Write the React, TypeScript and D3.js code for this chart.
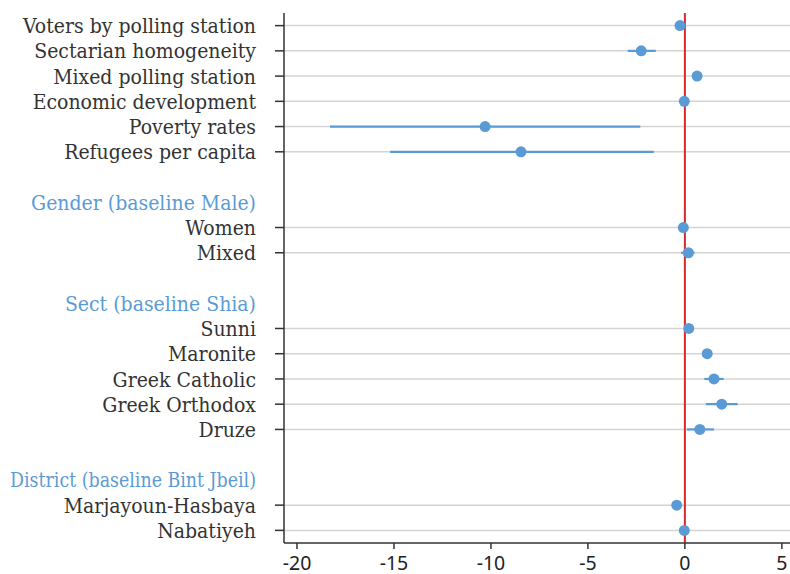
import { useLayoutEffect, useRef, useState } from 'react'
import { scaleLinear, scalePoint } from 'd3'

// rows top to bottom: "" is a spacer, headers come from groupHeaders
const rows = [
  'Voters by polling station',
  'Sectarian homogeneity',
  'Mixed polling station',
  'Economic development',
  'Poverty rates',
  'Refugees per capita',
  '',
  'Gender (baseline Male)',
  'Women',
  'Mixed',
  '',
  'Sect (baseline Shia)',
  'Sunni',
  'Maronite',
  'Greek Catholic',
  'Greek Orthodox',
  'Druze',
  '',
  'District (baseline Bint Jbeil)',
  'Marjayoun-Hasbaya',
  'Nabatiyeh',
]

const groupHeaders = ['Gender (baseline Male)', 'Sect (baseline Shia)', 'District (baseline Bint Jbeil)']

const variables = [
  'Voters by polling station',
  'Sectarian homogeneity',
  'Mixed polling station',
  'Economic development',
  'Poverty rates',
  'Refugees per capita',
  'Women',
  'Mixed',
  'Sunni',
  'Maronite',
  'Greek Catholic',
  'Greek Orthodox',
  'Druze',
  'Marjayoun-Hasbaya',
  'Nabatiyeh',
]

const estimates = [-0.25, -2.25, 0.63, -0.03, -10.3, -8.45, -0.08, 0.18, 0.2, 1.15, 1.5, 1.9, 0.77, -0.42, -0.03]
const lower = [-0.32, -2.95, 0.45, -0.1, -18.3, -15.2, -0.15, -0.2, 0.1, 1.0, 1.0, 1.08, 0.1, -0.5, -0.1]
const upper = [-0.18, -1.5, 0.85, 0.05, -2.3, -1.6, 0.0, 0.5, 0.3, 1.3, 2.0, 2.72, 1.5, -0.34, 0.05]

const xTicks = [-20, -15, -10, -5, 0, 5]

const width = 790
const height = 574
const margin = { top: 13, right: 0, bottom: 31, left: 284 }
const labelRight = 256
const labelMaxWidth = 246

const blue = '#5b9bd5'

function CoefPlot() {
  const innerWidth = width - margin.left - margin.right
  const innerHeight = height - margin.top - margin.bottom

  const labelRefs = useRef<(SVGTextElement | null)[]>([])
  const [tooWide, setTooWide] = useState<boolean[]>([])

  useLayoutEffect(() => {
    setTooWide(
      labelRefs.current.map((node) => (node ? node.getComputedTextLength() > labelMaxWidth : false)),
    )
  }, [])

  const xScale = scaleLinear().domain([-20.67, 5.42]).range([0, innerWidth])

  const yScale = scalePoint<string>()
    .domain(rows.map((_, index) => String(index)))
    .range([0, innerHeight])
    .padding(0.5)

  const rowY = (label: string) => yScale(String(rows.indexOf(label))) ?? 0

  return (
    <svg
      width={width}
      height={height}
      viewBox={`0 0 ${width} ${height}`}
      style={{ position: 'absolute', left: 0, top: 0, display: 'block', background: '#fff' }}
    >
      <g transform={`translate(${margin.left}, ${margin.top})`}>
        {variables.map((name) => (
          <line
            key={`${name}-grid`}
            x1={0}
            x2={innerWidth}
            y1={rowY(name)}
            y2={rowY(name)}
            stroke="#d4d4d4"
            strokeWidth={1.5}
          />
        ))}

        {rows.map((label, index) => {
          if (!label) return null
          const isHeader = groupHeaders.includes(label)
          return (
            <text
              key={`${label}-${index}-label`}
              ref={(node) => {
                labelRefs.current[index] = node
              }}
              x={labelRight - margin.left}
              y={yScale(String(index)) ?? 0}
              dy="0.36em"
              textAnchor="end"
              fontFamily="'DejaVu Serif Condensed', 'DejaVu Serif', serif"
              fontSize={21}
              fill={isHeader ? blue : '#333'}
              textLength={tooWide[index] ? labelMaxWidth : undefined}
              lengthAdjust={tooWide[index] ? 'spacingAndGlyphs' : undefined}
            >
              {label}
            </text>
          )
        })}

        {variables.map((name) => (
          <line
            key={`${name}-tick`}
            x1={-9}
            x2={0}
            y1={rowY(name)}
            y2={rowY(name)}
            stroke="#333"
            strokeWidth={1.5}
          />
        ))}

        <line
          x1={xScale(0)}
          x2={xScale(0)}
          y1={0}
          y2={innerHeight}
          stroke="#d9282b"
          strokeWidth={2}
        />

        {variables.map((name, i) => (
          <g key={`${name}-coef`}>
            <line
              x1={xScale(lower[i])}
              x2={xScale(upper[i])}
              y1={rowY(name)}
              y2={rowY(name)}
              stroke={blue}
              strokeWidth={2.2}
            />
            <circle cx={xScale(estimates[i])} cy={rowY(name)} r={5.5} fill={blue} />
          </g>
        ))}

        <line x1={0} x2={0} y1={0} y2={innerHeight} stroke="#333" strokeWidth={1.5} />
        <line x1={0} x2={innerWidth} y1={innerHeight} y2={innerHeight} stroke="#333" strokeWidth={1.5} />

        {xTicks.map((tick) => (
          <g key={`${tick}-xtick`} transform={`translate(${xScale(tick)}, ${innerHeight})`}>
            <line y1={0} y2={6} stroke="#333" strokeWidth={1.5} />
            <text
              y={26.5}
              textAnchor="middle"
              fontFamily="'Noto Sans', sans-serif"
              fontSize={19.5}
              fill="#222"
            >
              {tick}
            </text>
          </g>
        ))}
      </g>
    </svg>
  )
}

export default function App() {
  return <CoefPlot />
}
